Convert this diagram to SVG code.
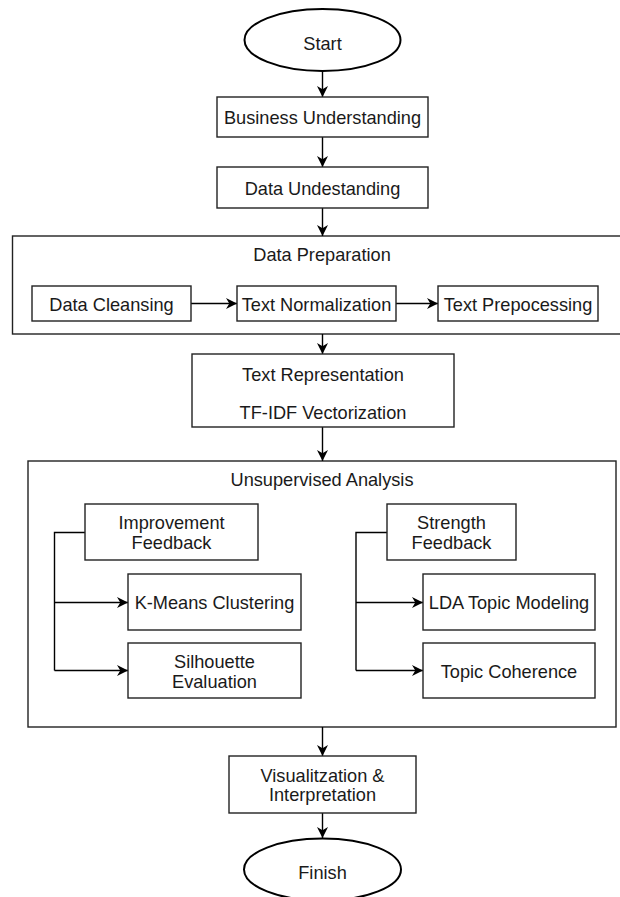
<svg xmlns="http://www.w3.org/2000/svg" width="620" height="897" viewBox="0 0 620 897">
<defs>
<style>
.box{fill:#fff;stroke:#222;stroke-width:1.4}
.cont{fill:none;stroke:#222;stroke-width:1.4}
.term{fill:#fff;stroke:#000;stroke-width:2}
.t{font-family:"Liberation Sans",Arial,Helvetica,sans-serif;font-size:18.2px;fill:#1a1a1a;text-anchor:middle}
.c{fill:none;stroke:#000;stroke-width:1.4}
</style>
<marker id="ah" markerUnits="userSpaceOnUse" markerWidth="11" markerHeight="11" viewBox="0 0 10 10" refX="10" refY="5" orient="auto">
<path d="M0,0 L10,5 L0,10 L3,5 Z" fill="#000"/>
</marker>
</defs>
<rect width="620" height="897" fill="#fff"/>

<g id="containers">
<g id="data-preparation">
<rect class="cont" x="12.5" y="236" width="620" height="98"/>
<text class="t" x="322" y="261">Data Preparation</text>
</g>
<g id="unsupervised-analysis">
<rect class="cont" x="28" y="461" width="588" height="266"/>
<text class="t" x="322" y="486">Unsupervised Analysis</text>
</g>
</g>

<g id="connectors">
<line class="c" x1="322.5" y1="71" x2="322.5" y2="97" marker-end="url(#ah)"/>
<line class="c" x1="322.5" y1="137" x2="322.5" y2="167" marker-end="url(#ah)"/>
<line class="c" x1="322.5" y1="208" x2="322.5" y2="236" marker-end="url(#ah)"/>
<line class="c" x1="191" y1="303.5" x2="237" y2="303.5" marker-end="url(#ah)"/>
<line class="c" x1="396" y1="303.5" x2="438" y2="303.5" marker-end="url(#ah)"/>
<line class="c" x1="322.5" y1="334" x2="322.5" y2="354" marker-end="url(#ah)"/>
<line class="c" x1="322.5" y1="427" x2="322.5" y2="461" marker-end="url(#ah)"/>
<polyline class="c" points="85,532.5 54.5,532.5 54.5,670.5"/>
<line class="c" x1="54.5" y1="602.5" x2="128" y2="602.5" marker-end="url(#ah)"/>
<line class="c" x1="54.5" y1="670.5" x2="128" y2="670.5" marker-end="url(#ah)"/>
<polyline class="c" points="387,532.5 356,532.5 356,670.5"/>
<line class="c" x1="356" y1="602.5" x2="423" y2="602.5" marker-end="url(#ah)"/>
<line class="c" x1="356" y1="670.5" x2="423" y2="670.5" marker-end="url(#ah)"/>
<line class="c" x1="322.5" y1="727" x2="322.5" y2="756" marker-end="url(#ah)"/>
<line class="c" x1="322.5" y1="813" x2="322.5" y2="838" marker-end="url(#ah)"/>
</g>

<g id="start">
<ellipse class="term" cx="322.5" cy="40" rx="78" ry="31"/>
<text class="t" x="322.5" y="50">Start</text>
</g>
<g id="business-understanding">
<rect class="box" x="217" y="97" width="211" height="40"/>
<text class="t" x="322.5" y="123.5">Business Understanding</text>
</g>
<g id="data-understanding">
<rect class="box" x="217" y="167" width="211" height="41"/>
<text class="t" x="322.5" y="195">Data Undestanding</text>
</g>
<g id="data-cleansing">
<rect class="box" x="32" y="286" width="159" height="35"/>
<text class="t" x="111.5" y="311">Data Cleansing</text>
</g>
<g id="text-normalization">
<rect class="box" x="237" y="286" width="159" height="35"/>
<text class="t" x="316.5" y="311">Text Normalization</text>
</g>
<g id="text-prepocessing">
<rect class="box" x="438" y="286" width="160" height="35"/>
<text class="t" x="518" y="311">Text Prepocessing</text>
</g>
<g id="text-representation">
<rect class="box" x="192" y="354" width="262" height="73"/>
<text class="t" x="323" y="381">Text Representation</text>
<text class="t" x="323" y="419">TF-IDF Vectorization</text>
</g>
<g id="improvement-feedback">
<rect class="box" x="85" y="504" width="173" height="56"/>
<text class="t" x="171.5" y="529">Improvement</text>
<text class="t" x="171.5" y="548.5">Feedback</text>
</g>
<g id="k-means">
<rect class="box" x="128" y="574" width="173" height="56"/>
<text class="t" x="214.5" y="609">K-Means Clustering</text>
</g>
<g id="silhouette">
<rect class="box" x="128" y="643" width="173" height="55"/>
<text class="t" x="214.5" y="668">Silhouette</text>
<text class="t" x="214.5" y="687.5">Evaluation</text>
</g>
<g id="strength-feedback">
<rect class="box" x="387" y="504" width="129" height="56"/>
<text class="t" x="451.5" y="529">Strength</text>
<text class="t" x="451.5" y="548.5">Feedback</text>
</g>
<g id="lda">
<rect class="box" x="423" y="574" width="172" height="56"/>
<text class="t" x="509" y="609">LDA Topic Modeling</text>
</g>
<g id="topic-coherence">
<rect class="box" x="423" y="643" width="172" height="55"/>
<text class="t" x="509" y="678">Topic Coherence</text>
</g>
<g id="visualization">
<rect class="box" x="229" y="756" width="187" height="57"/>
<text class="t" x="322.5" y="782">Visualitzation &amp;</text>
<text class="t" x="322.5" y="801">Interpretation</text>
</g>
<g id="finish">
<ellipse class="term" cx="322.5" cy="869.5" rx="78.5" ry="31"/>
<text class="t" x="322.5" y="879">Finish</text>
</g>
</svg>
